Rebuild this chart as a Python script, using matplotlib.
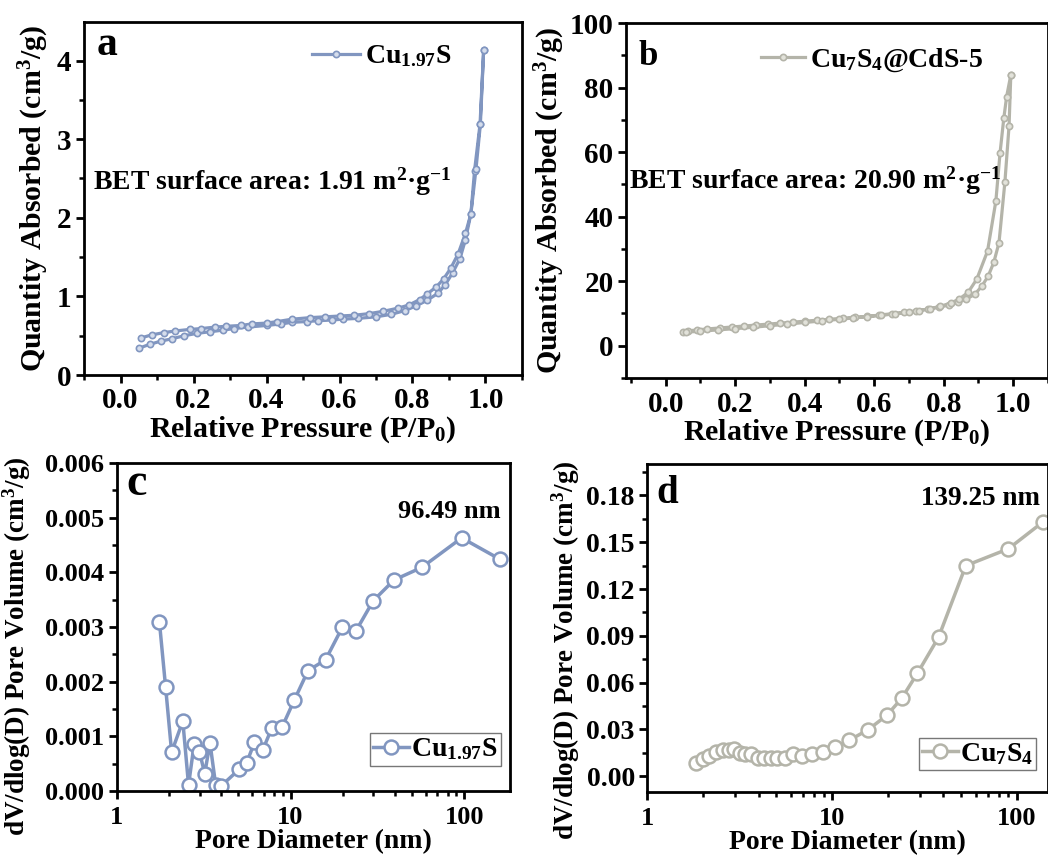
import numpy as np
import matplotlib
matplotlib.use('Agg')
import matplotlib.pyplot as plt
from matplotlib.ticker import MultipleLocator, LogLocator, FixedLocator, FixedFormatter, NullFormatter
from matplotlib.lines import Line2D

plt.rcParams['font.family'] = ['Liberation Serif', 'DejaVu Serif']
plt.rcParams['font.weight'] = 'bold'
plt.rcParams['mathtext.fontset'] = 'custom'
plt.rcParams['mathtext.rm'] = 'Liberation Serif:bold'
plt.rcParams['mathtext.it'] = 'Liberation Serif:bold'
plt.rcParams['mathtext.bf'] = 'Liberation Serif:bold'
plt.rcParams['mathtext.default'] = 'rm'
plt.rcParams['axes.linewidth'] = 2.0

# ---------------- data ----------------
# (a) Cu1.97S N2 isotherm
a_ads_p = [0.05, 0.08, 0.11, 0.14, 0.175, 0.21, 0.245, 0.28, 0.31, 0.35, 0.40, 0.44,
           0.47, 0.51, 0.54, 0.58, 0.61, 0.65, 0.70, 0.74, 0.78, 0.81, 0.84, 0.87,
           0.89, 0.91, 0.93, 0.945, 0.96, 0.97, 0.985, 0.995]
a_ads_q = [0.34, 0.39, 0.43, 0.46, 0.50, 0.53, 0.55, 0.57, 0.59, 0.61, 0.63, 0.65,
           0.67, 0.68, 0.69, 0.70, 0.71, 0.72, 0.74, 0.77, 0.82, 0.88, 0.95, 1.04,
           1.15, 1.30, 1.48, 1.72, 2.05, 2.60, 3.19, 4.14]
a_des_p = [0.995, 0.986, 0.974, 0.96, 0.945, 0.925, 0.905, 0.885, 0.865, 0.84, 0.82,
           0.79, 0.76, 0.72, 0.68, 0.64, 0.60, 0.56, 0.52, 0.47, 0.43, 0.40, 0.36,
           0.33, 0.29, 0.26, 0.22, 0.19, 0.15, 0.12, 0.085, 0.055]
a_des_q = [4.14, 3.19, 2.62, 2.05, 1.80, 1.54, 1.36, 1.22, 1.12, 1.03, 0.96,
           0.89, 0.85, 0.81, 0.78, 0.76, 0.75, 0.74, 0.73, 0.71, 0.68, 0.66, 0.65,
           0.63, 0.62, 0.61, 0.59, 0.58, 0.56, 0.54, 0.51, 0.47]

# (b) Cu7S4@CdS-5 N2 isotherm
b_ads_p = [0.05, 0.065, 0.09, 0.12, 0.155, 0.19, 0.225, 0.26, 0.295, 0.33, 0.365, 0.40,
           0.435, 0.47, 0.51, 0.545, 0.58, 0.615, 0.65, 0.685, 0.72, 0.755, 0.785,
           0.815, 0.84, 0.865, 0.89, 0.91, 0.928, 0.944, 0.959, 0.976, 0.988, 0.993]
b_ads_q = [4.3, 4.6, 4.9, 5.2, 5.5, 5.8, 6.1, 6.4, 6.7, 7.0, 7.3, 7.6,
           7.9, 8.2, 8.5, 8.8, 9.1, 9.5, 9.9, 10.3, 10.8, 11.3, 11.9,
           12.6, 13.4, 14.4, 16.0, 18.5, 21.6, 25.8, 31.9, 50.7, 68.2, 83.9]
b_des_p = [0.993, 0.981, 0.973, 0.962, 0.95, 0.926, 0.895, 0.87, 0.845, 0.82, 0.79,
           0.76, 0.73, 0.70, 0.66, 0.62, 0.58, 0.54, 0.50, 0.45, 0.40, 0.35, 0.30,
           0.25, 0.20, 0.15, 0.10, 0.06]
b_des_q = [83.9, 77.2, 70.6, 59.7, 44.8, 29.3, 20.6, 16.5, 14.5, 13.2, 12.2,
           11.5, 10.9, 10.4, 9.9, 9.4, 9.0, 8.6, 8.2, 7.7, 7.2, 6.7, 6.2,
           5.7, 5.3, 4.9, 4.5, 4.2]

# (c) Cu1.97S pore size distribution
c_d = [1.76, 1.91, 2.07, 2.40, 2.59, 2.79, 2.99, 3.21, 3.44, 3.71, 3.98, 5.08, 5.6,
       6.2, 6.92, 7.8, 8.94, 10.5, 12.6, 15.9, 19.9, 23.8, 29.9, 39.4, 56.9, 96.49, 160]
c_v = [0.00310, 0.00191, 0.00071, 0.00128, 0.00011, 0.00086, 0.00072, 0.00032,
       0.00088, 0.00011, 0.00009, 0.00040, 0.00052, 0.00089, 0.00075, 0.00115,
       0.00117, 0.00166, 0.00220, 0.00240, 0.00300, 0.00293, 0.00348, 0.00386,
       0.00409, 0.00463, 0.00424]

# (d) Cu7S4 pore size distribution
d_d = [1.83, 1.99, 2.17, 2.35, 2.56, 2.78, 2.95, 3.18, 3.38, 3.66, 3.96, 4.30, 4.66,
       5.06, 5.57, 6.17, 6.85, 7.76, 8.9, 10.4, 12.4, 15.7, 19.8, 23.8, 29.0, 37.7,
       53.0, 90.1, 139.25]
d_v = [0.0081, 0.0107, 0.0132, 0.0153, 0.0166, 0.0170, 0.0175, 0.0149, 0.0142,
       0.0142, 0.0117, 0.0113, 0.0117, 0.0117, 0.0113, 0.0145, 0.0130, 0.0145,
       0.0152, 0.0187, 0.0230, 0.0298, 0.0390, 0.0498, 0.0660, 0.0890, 0.1350,
       0.1458, 0.1632]

BLUE = '#8196c0'
BLUE_L = '#d5ddec'
GRAY = '#b4b4a9'
GRAY_L = '#e2e2da'

W, H = 1048, 856
fig = plt.figure(figsize=(W / 100, H / 100), dpi=100)


def rect(l, r, t, b):
    return [l / W, 1 - b / H, (r - l) / W, (b - t) / H]


def style(ax, xfs=18, yfs=18):
    ax.tick_params(which='both', direction='out', top=False, right=False, pad=3)
    ax.tick_params(axis='x', labelsize=xfs)
    ax.tick_params(axis='y', labelsize=yfs)
    ax.tick_params(which='major', length=6, width=2)
    ax.tick_params(which='minor', length=3.5, width=1.8)
    for lab in ax.get_xticklabels() + ax.get_yticklabels():
        lab.set_fontweight('bold')


# ---------------- (a) ----------------
axa = fig.add_axes(rect(84, 522, 22, 375))
axa.plot(a_ads_p + a_des_p, a_ads_q + a_des_q, '-o', color=BLUE, lw=2.3, ms=4.5,
         mfc=BLUE_L, mec=BLUE, mew=1.2)
axa.set_xlim(-0.1, 1.1)
axa.set_ylim(0, 4.49)
axa.set_xticks([0.0, 0.2, 0.4, 0.6, 0.8, 1.0])
axa.set_xticklabels(['0.0', '0.2', '0.4', '0.6', '0.8', '1.0'])
axa.xaxis.set_minor_locator(MultipleLocator(0.1))
axa.yaxis.set_major_locator(MultipleLocator(1))
axa.yaxis.set_minor_locator(MultipleLocator(0.5))
style(axa, 21, 21)
axa.set_xlabel('Relative Pressure (P/P$_0$)', fontsize=21.5, fontweight='bold', labelpad=0)
axa.set_ylabel('Quantity Absorbed (cm$^3$/g)', fontsize=21.5, fontweight='bold', labelpad=4)
axa.text(0.029, 0.906, 'a', transform=axa.transAxes, fontsize=30, fontweight='bold',
         ha='left', va='baseline')
axa.text(0.02, 0.548, 'BET surface area: 1.91 m$^{2}$·g$^{-1}$', transform=axa.transAxes,
         fontsize=20, fontweight='bold', ha='left', va='center')
ha = Line2D([], [], color=BLUE, lw=2.3, marker='o', ms=4.5, mfc=BLUE_L, mec=BLUE, mew=1.2)
axa.legend([ha], ['Cu$_{1.97}$S'], loc='center left', bbox_to_anchor=(0.52, 0.902),
           frameon=False, fontsize=20, handlelength=1.75, handletextpad=0.15,
           borderpad=0, borderaxespad=0)

# ---------------- (b) ----------------
axb = fig.add_axes(rect(626, 1048, 23, 378))
axb.plot(b_ads_p + b_des_p, b_ads_q + b_des_q, '-o', color=GRAY, lw=2.3, ms=4.5,
         mfc=GRAY_L, mec=GRAY, mew=1.2)
axb.set_xlim(-0.114, 1.1)
axb.set_ylim(-10, 100)
axb.set_xticks([0.0, 0.2, 0.4, 0.6, 0.8, 1.0])
axb.set_xticklabels(['0.0', '0.2', '0.4', '0.6', '0.8', '1.0'])
axb.xaxis.set_minor_locator(MultipleLocator(0.1))
axb.yaxis.set_major_locator(MultipleLocator(20))
axb.yaxis.set_minor_locator(MultipleLocator(10))
style(axb, 21, 21)
axb.set_xlabel('Relative Pressure (P/P$_0$)', fontsize=21.5, fontweight='bold', labelpad=0)
axb.set_ylabel('Quantity Absorbed (cm$^3$/g)', fontsize=21.5, fontweight='bold', labelpad=2)
axb.text(0.029, 0.882, 'b', transform=axb.transAxes, fontsize=25, fontweight='bold',
         ha='left', va='baseline')
axb.text(0.008, 0.555, 'BET surface area: 20.90 m$^{2}$·g$^{-1}$', transform=axb.transAxes,
         fontsize=20, fontweight='bold', ha='left', va='center')
hb = Line2D([], [], color=GRAY, lw=2.3, marker='o', ms=4.5, mfc=GRAY_L, mec=GRAY, mew=1.2)
axb.legend([hb], ['Cu$_7$S$_4$@CdS-5'], loc='center left', bbox_to_anchor=(0.32, 0.896),
           frameon=False, fontsize=20, handlelength=1.6, handletextpad=0.15,
           borderpad=0, borderaxespad=0)

# ---------------- (c) ----------------
axc = fig.add_axes(rect(116.7, 510, 463, 791))
axc.plot(c_d, c_v, '-o', color=BLUE, lw=2.5, ms=10, mfc='white', mec=BLUE, mew=1.8)
axc.set_xscale('log')
axc.set_xlim(1, 183)
axc.set_ylim(0, 0.006)
axc.xaxis.set_major_locator(FixedLocator([1, 10, 100]))
axc.xaxis.set_major_formatter(FixedFormatter(['1', '10', '100']))
axc.xaxis.set_minor_locator(LogLocator(base=10, subs=np.arange(2, 10)))
axc.xaxis.set_minor_formatter(NullFormatter())
axc.yaxis.set_major_locator(MultipleLocator(0.001))
axc.yaxis.set_minor_locator(MultipleLocator(0.0005))
axc.yaxis.set_major_formatter(matplotlib.ticker.FormatStrFormatter('%.3f'))
style(axc, 19, 19)
axc.tick_params(axis='x', pad=5)
axc.set_xlabel('Pore Diameter (nm)', fontsize=20, fontweight='bold', labelpad=0)
axc.set_ylabel('dV/dlog(D) Pore Volume (cm$^3$/g)', fontsize=19.5, fontweight='bold')
axc.yaxis.set_label_coords(-0.212, 0.442)
axc.text(0.025, 0.902, 'c', transform=axc.transAxes, fontsize=33, fontweight='bold',
         ha='left', va='baseline')
axc.text(0.975, 0.852, '96.49 nm', transform=axc.transAxes, fontsize=19,
         fontweight='bold', ha='right', va='center')
hc = Line2D([], [], color=BLUE, lw=2.5, marker='o', ms=10, mfc='white', mec=BLUE, mew=1.8)
lc = axc.legend([hc], ['Cu$_{1.97}$S'], loc='lower right', bbox_to_anchor=(0.976, 0.077),
                frameon=True, fancybox=False, fontsize=20, handlelength=1.3,
                handletextpad=0.05, borderpad=0.12, borderaxespad=0)
lc.get_frame().set_edgecolor('#555555')
lc.get_frame().set_linewidth(1.0)

# ---------------- (d) ----------------
axd = fig.add_axes(rect(647.3, 1048, 464.3, 791.7))
axd.plot(d_d, d_v, '-o', color=GRAY, lw=2.5, ms=10, mfc='white', mec=GRAY, mew=1.8)
axd.set_xscale('log')
axd.set_xlim(1, 147.6)
axd.set_ylim(-0.01, 0.2)
axd.xaxis.set_major_locator(FixedLocator([1, 10, 100]))
axd.xaxis.set_major_formatter(FixedFormatter(['1', '10', '100']))
axd.xaxis.set_minor_locator(LogLocator(base=10, subs=np.arange(2, 10)))
axd.xaxis.set_minor_formatter(NullFormatter())
axd.yaxis.set_major_locator(MultipleLocator(0.03))
axd.yaxis.set_minor_locator(MultipleLocator(0.015))
axd.yaxis.set_major_formatter(matplotlib.ticker.FormatStrFormatter('%.2f'))
style(axd, 19, 20)
axd.tick_params(axis='x', pad=5)
axd.set_xlabel('Pore Diameter (nm)', fontsize=20, fontweight='bold', labelpad=0)
axd.set_ylabel('dV/dlog(D) Pore Volume (cm$^3$/g)', fontsize=19.5, fontweight='bold')
axd.yaxis.set_label_coords(-0.162, 0.433)
axd.text(0.023, 0.881, 'd', transform=axd.transAxes, fontsize=28, fontweight='bold',
         ha='left', va='baseline')
axd.text(0.98, 0.896, '139.25 nm', transform=axd.transAxes, fontsize=19.5,
         fontweight='bold', ha='right', va='center')
hd = Line2D([], [], color=GRAY, lw=2.5, marker='o', ms=10, mfc='white', mec=GRAY, mew=1.8)
ld = axd.legend([hd], ['Cu$_7$S$_4$'], loc='lower right', bbox_to_anchor=(0.970, 0.066),
                frameon=True, fancybox=False, fontsize=20, handlelength=1.3,
                handletextpad=0.05, borderpad=0.12, borderaxespad=0)
ld.get_frame().set_edgecolor('#555555')
ld.get_frame().set_linewidth(1.0)

fig.savefig('out.png', dpi=100)
